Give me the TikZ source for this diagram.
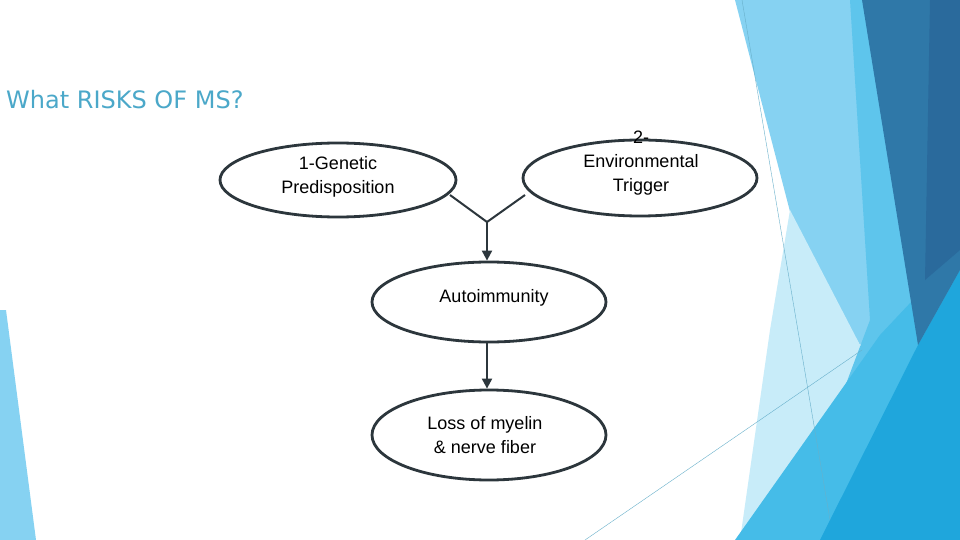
\documentclass[tikz,border=0pt]{standalone}
\usepackage{fontspec}
\setmainfont{Liberation Sans}
\newfontfamily\titlefont{DejaVu Sans}
\usetikzlibrary{arrows.meta,shapes.geometric}
\definecolor{cA}{HTML}{86D2F2}
\definecolor{cB}{HTML}{C8ECF9}
\definecolor{cC}{HTML}{5EC5EC}
\definecolor{cD}{HTML}{45BCE8}
\definecolor{cE}{HTML}{1FA6DC}
\definecolor{cF}{HTML}{2F78A8}
\definecolor{cG}{HTML}{2A6A9C}
\definecolor{edge}{HTML}{2C363C}
\definecolor{ttl}{HTML}{4BA8C9}
\begin{document}
\begin{tikzpicture}[x=1pt,y=-1pt,
  el/.style={draw=edge, line width=2.8pt, fill=white, ellipse, inner sep=0pt},
  lbl/.style={align=center, font=\fontsize{18}{24}\selectfont, text=black},
  con/.style={draw=edge, line width=2pt},
  arr/.style={con, -{Triangle[length=10pt,width=10pt]}}]
\useasboundingbox (0,0) rectangle (960,540);
\fill[white] (0,0) rectangle (960,540);
% background decoration
\fill[cA] (0,310) -- (6,310) -- (36,540) -- (0,540) -- cycle;
\fill[cA] (735,0) -- (862,0) -- (895,300) -- (860,345) -- (800,250) -- cycle;
\fill[cB] (790,210) -- (860,345) -- (860,390) -- (740,540) -- (770,330) -- cycle;
\fill[cC] (850,0) -- (880,0) -- (915,330) -- (900,540) -- (840,400) -- (870,320) -- cycle;
\fill[cD] (735,540) -- (880,335) -- (960,250) -- (960,540) -- cycle;
\fill[cE] (820,540) -- (918,345) -- (960,270) -- (960,540) -- cycle;
\fill[cF] (862,0) -- (960,0) -- (960,270) -- (918,345) -- cycle;
\fill[cG] (930,0) -- (960,0) -- (960,250) -- (925,280) -- cycle;
\draw[cC!70!gray, line width=0.4pt] (742,0) -- (830,520);
\draw[cC!70!gray, line width=0.4pt] (585,540) -- (862,350);
% title
\node[anchor=west, text=ttl, font=\titlefont\fontsize{24}{28}\selectfont, inner sep=0pt] (title) at (6,100) {What RISKS OF MS?};
% ellipses
\node[el, minimum width=236pt, minimum height=74pt] (gen) at (338,180) {};
\node[lbl] (gent) at (338,177) {1-Genetic\\Predisposition};
\node[el, minimum width=234pt, minimum height=76pt] (env) at (640,178) {};
\node[lbl] (envt) at (641,163) {2-\\Environmental\\Trigger};
\node[el, minimum width=234pt, minimum height=80pt] (auto) at (489,302) {};
\node[lbl] (autot) at (494,298) {Autoimmunity};
\node[el, minimum width=234pt, minimum height=90pt] (loss) at (489,435) {};
\node[lbl] (losst) at (485,435) {Loss of myelin\\\& nerve fiber};
% connectors
\coordinate (j) at (487,222);
\coordinate (g1) at (450,195);
\coordinate (e1) at (525,195);
\draw[con] (g1) -- (j) -- (e1);
\draw[arr] (j) -- (auto.north -| j);
\draw[arr] (auto.south -| j) -- (loss.north -| j);
\end{tikzpicture}
\end{document}
